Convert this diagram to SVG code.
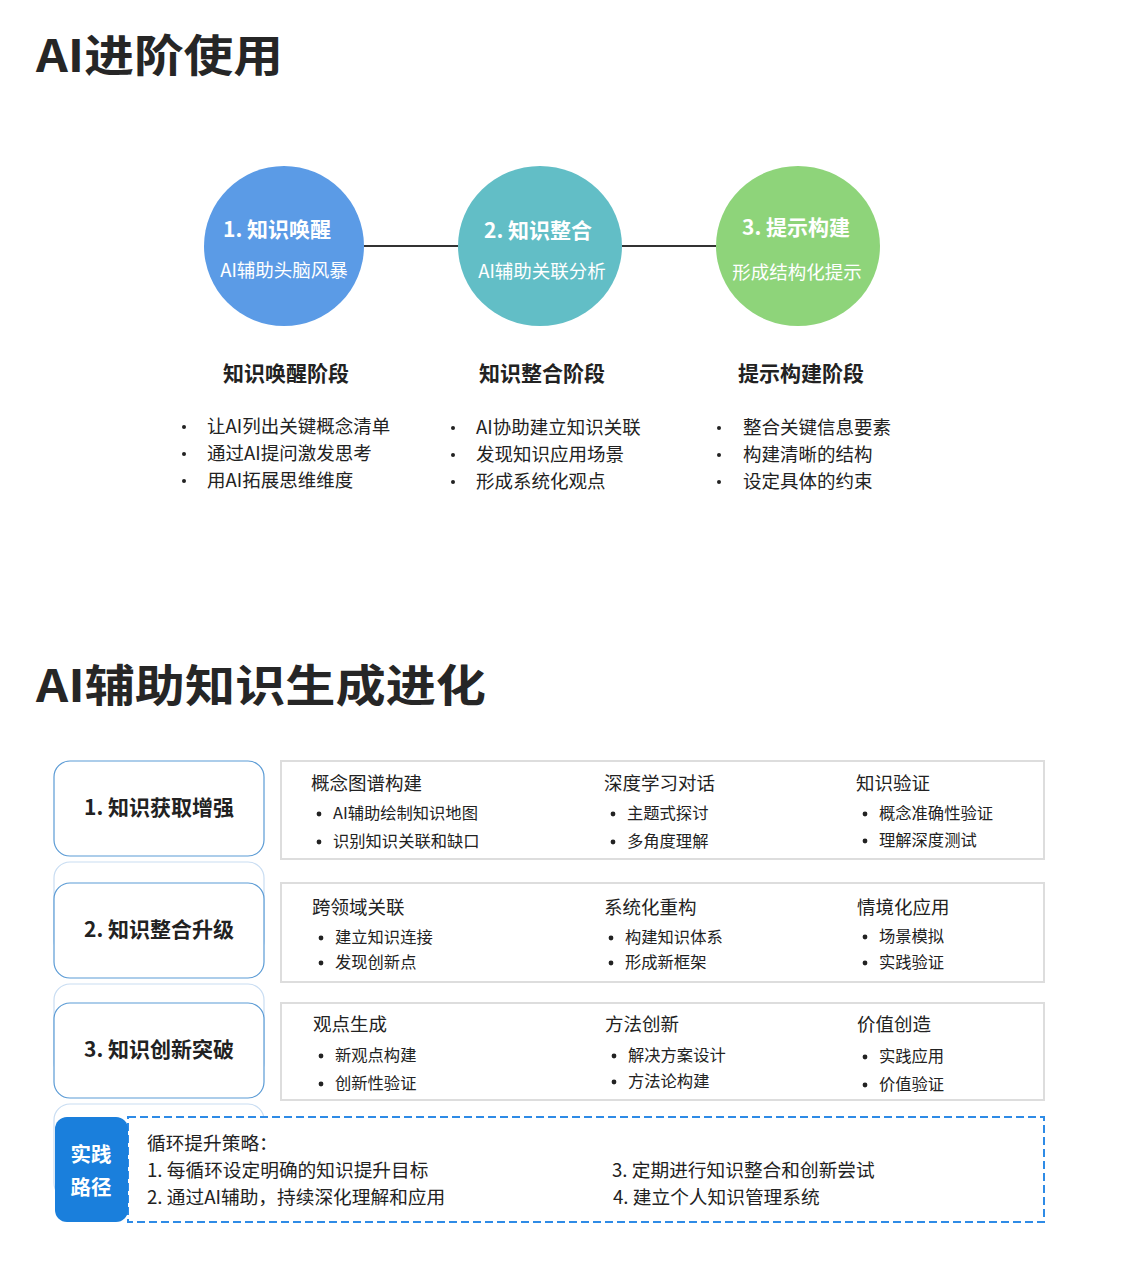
<svg xmlns="http://www.w3.org/2000/svg" width="1122" height="1262" viewBox="0 0 1122 1262">
<style>
text{font-family:"Noto Sans CJK SC","Liberation Sans",sans-serif;fill:#222}
.title{font-size:44px;font-weight:bold;fill:#262626}
.ct{font-size:21px;font-weight:bold;fill:#fff;text-anchor:middle}
.cs{font-size:18.5px;fill:#fff;text-anchor:middle}
.sh{font-size:21px;font-weight:bold;text-anchor:middle}
.bl{font-size:18.5px}
.lb{font-size:21px;font-weight:bold;text-anchor:middle}
.hd{font-size:18.5px}
.it{font-size:16.3px}
.lbox{fill:#fff;stroke:#5B9BD5;stroke-width:1.2}
.ghost{fill:#fff;stroke:#C9DDF2;stroke-width:1.2}
.rbox{fill:#fff;stroke:#DDDDDD;stroke-width:2}
.pt{font-size:18.7px}
.dot{fill:#222}
</style>
<rect width="1122" height="1262" fill="#fff"/>
<text class="title" x="36" y="72" textLength="247" lengthAdjust="spacingAndGlyphs">AI进阶使用</text>
<g id="connectors">
<line x1="364" y1="246" x2="458" y2="246" stroke="#333" stroke-width="2"/>
<line x1="622" y1="246" x2="716" y2="246" stroke="#333" stroke-width="2"/>
</g>
<g id="node1">
<ellipse cx="284" cy="246" rx="80" ry="80" fill="#5B9BE6"/>
<text class="ct" x="277" y="237">1. 知识唤醒</text>
<text class="cs" x="284" y="277">AI辅助头脑风暴</text>
</g>
<g id="node2">
<ellipse cx="540" cy="246" rx="82" ry="80" fill="#62BEC6"/>
<text class="ct" x="538" y="238">2. 知识整合</text>
<text class="cs" x="542" y="278">AI辅助关联分析</text>
</g>
<g id="node3">
<ellipse cx="798" cy="246" rx="82" ry="80" fill="#8ED47A"/>
<text class="ct" x="796" y="235">3. 提示构建</text>
<text class="cs" x="797" y="279">形成结构化提示</text>
</g>
<g id="stage1">
<text class="sh" x="286" y="381">知识唤醒阶段</text>
<circle class="dot" cx="184" cy="427" r="2"/><text class="bl" x="207" y="433">让AI列出关键概念清单</text>
<circle class="dot" cx="184" cy="454" r="2"/><text class="bl" x="207" y="460">通过AI提问激发思考</text>
<circle class="dot" cx="184" cy="481" r="2"/><text class="bl" x="207" y="487">用AI拓展思维维度</text>
</g>
<g id="stage2">
<text class="sh" x="542" y="381">知识整合阶段</text>
<circle class="dot" cx="453" cy="428" r="2"/><text class="bl" x="476" y="434">AI协助建立知识关联</text>
<circle class="dot" cx="453" cy="455" r="2"/><text class="bl" x="476" y="461">发现知识应用场景</text>
<circle class="dot" cx="453" cy="482" r="2"/><text class="bl" x="476" y="488">形成系统化观点</text>
</g>
<g id="stage3">
<text class="sh" x="801" y="381">提示构建阶段</text>
<circle class="dot" cx="719" cy="428" r="2"/><text class="bl" x="743" y="434">整合关键信息要素</text>
<circle class="dot" cx="719" cy="455" r="2"/><text class="bl" x="743" y="461">构建清晰的结构</text>
<circle class="dot" cx="719" cy="482" r="2"/><text class="bl" x="743" y="488">设定具体的约束</text>
</g>
<text class="title" x="36" y="702" textLength="450" lengthAdjust="spacingAndGlyphs">AI辅助知识生成进化</text>
<g id="ghosts">
<rect class="ghost" x="54" y="862" width="210" height="95" rx="16"/>
<rect class="ghost" x="54" y="984" width="210" height="95" rx="16"/>
<rect class="ghost" x="54" y="1104" width="210" height="95" rx="16"/>
</g>
<g id="level1">
<rect class="lbox" x="54" y="761" width="210" height="95" rx="16"/>
<text class="lb" x="159" y="815">1. 知识获取增强</text>
<rect class="rbox" x="281" y="761" width="763" height="98"/>
<text class="hd" x="311" y="790">概念图谱构建</text>
<circle class="dot" cx="319" cy="814" r="2.4"/><text class="it" x="333" y="819">AI辅助绘制知识地图</text>
<circle class="dot" cx="319" cy="842" r="2.4"/><text class="it" x="333" y="847">识别知识关联和缺口</text>
<text class="hd" x="604" y="790">深度学习对话</text>
<circle class="dot" cx="613" cy="814" r="2.4"/><text class="it" x="627" y="819">主题式探讨</text>
<circle class="dot" cx="613" cy="842" r="2.4"/><text class="it" x="627" y="847">多角度理解</text>
<text class="hd" x="856" y="790">知识验证</text>
<circle class="dot" cx="865" cy="814" r="2.4"/><text class="it" x="879" y="819">概念准确性验证</text>
<circle class="dot" cx="865" cy="841" r="2.4"/><text class="it" x="879" y="846">理解深度测试</text>
</g>
<g id="level2">
<rect class="lbox" x="54" y="883" width="210" height="95" rx="16"/>
<text class="lb" x="159" y="937">2. 知识整合升级</text>
<rect class="rbox" x="281" y="883" width="763" height="99"/>
<text class="hd" x="312" y="914">跨领域关联</text>
<circle class="dot" cx="321" cy="938" r="2.4"/><text class="it" x="335" y="943">建立知识连接</text>
<circle class="dot" cx="321" cy="963" r="2.4"/><text class="it" x="335" y="968">发现创新点</text>
<text class="hd" x="604" y="914">系统化重构</text>
<circle class="dot" cx="611" cy="938" r="2.4"/><text class="it" x="625" y="943">构建知识体系</text>
<circle class="dot" cx="611" cy="963" r="2.4"/><text class="it" x="625" y="968">形成新框架</text>
<text class="hd" x="857" y="914">情境化应用</text>
<circle class="dot" cx="865" cy="937" r="2.4"/><text class="it" x="879" y="942">场景模拟</text>
<circle class="dot" cx="865" cy="963" r="2.4"/><text class="it" x="879" y="968">实践验证</text>
</g>
<g id="level3">
<rect class="lbox" x="54" y="1003" width="210" height="95" rx="16"/>
<text class="lb" x="159" y="1057">3. 知识创新突破</text>
<rect class="rbox" x="281" y="1003" width="763" height="97"/>
<text class="hd" x="313" y="1031">观点生成</text>
<circle class="dot" cx="321" cy="1056" r="2.4"/><text class="it" x="335" y="1061">新观点构建</text>
<circle class="dot" cx="321" cy="1084" r="2.4"/><text class="it" x="335" y="1089">创新性验证</text>
<text class="hd" x="605" y="1031">方法创新</text>
<circle class="dot" cx="614" cy="1056" r="2.4"/><text class="it" x="628" y="1061">解决方案设计</text>
<circle class="dot" cx="614" cy="1082" r="2.4"/><text class="it" x="628" y="1087">方法论构建</text>
<text class="hd" x="857" y="1031">价值创造</text>
<circle class="dot" cx="865" cy="1057" r="2.4"/><text class="it" x="879" y="1062">实践应用</text>
<circle class="dot" cx="865" cy="1085" r="2.4"/><text class="it" x="879" y="1090">价值验证</text>
</g>
<g id="practice">
<rect x="128" y="1117" width="916" height="105" fill="#fff" stroke="#2E8BE6" stroke-width="2" stroke-dasharray="8 4"/>
<rect x="55" y="1117" width="73" height="105" rx="12" fill="#1A7FDC"/>
<text x="91" y="1162" style="font-size:20.5px;font-weight:bold;fill:#fff;text-anchor:middle">实践</text>
<text x="91" y="1195" style="font-size:20.5px;font-weight:bold;fill:#fff;text-anchor:middle">路径</text>
<text class="pt" x="147" y="1150">循环提升策略：</text>
<text class="pt" x="147" y="1177">1. 每循环设定明确的知识提升目标</text>
<text class="pt" x="147" y="1204">2. 通过AI辅助，持续深化理解和应用</text>
<text class="pt" x="612" y="1177">3. 定期进行知识整合和创新尝试</text>
<text class="pt" x="613" y="1204">4. 建立个人知识管理系统</text>
</g>
</svg>
